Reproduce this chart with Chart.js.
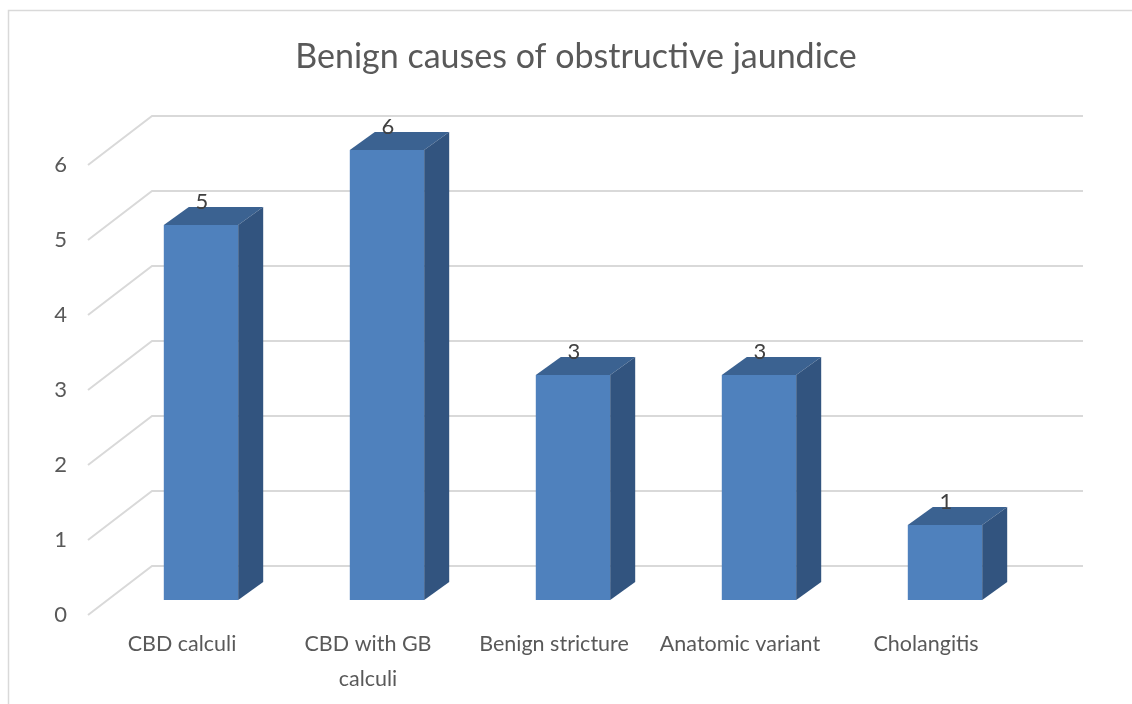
<!DOCTYPE html>
<html>
<head>
<meta charset="utf-8">
<title>Benign causes of obstructive jaundice</title>
<script src="https://cdn.jsdelivr.net/npm/chart.js@4/dist/chart.umd.min.js"></script>
<style>
  html, body { margin: 0; padding: 0; background: #ffffff; }
  #wrap { width: 1132px; height: 704px; }
</style>
</head>
<body>
<div id="wrap"><canvas id="chart" width="1132" height="704"></canvas></div>
<script>
// Categories and case counts
const categories = [
  'CBD calculi',
  ['CBD with GB', 'calculi'],
  'Benign stricture',
  'Anatomic variant',
  'Cholangitis'
];
const caseCounts = [5, 6, 3, 3, 1];
const yMin = 0;
const yMax = 6;

// Colours for the extruded columns and the frame
const FRONT = '#4f81bd';
const TOP = '#3b6291';
const SIDE = '#32547f';
const GRID = '#d9d9d9';
const TEXT = '#595959';

// Pseudo-3D geometry (pixels)
const BAR_DX = 25, BAR_DY = 18;      // column depth
const BACK_DX = 44, BACK_DY = 34;    // back wall offset from the bar plane
const FRONT_DX = 20, FRONT_DY = 15;  // floor front edge offset from the bar plane

const frame3d = {
  id: 'frame3d',
  afterLayout(chart) {
    // centre the title over the whole framed panel rather than the plot
    const tb = chart.titleBlock;
    if (tb) {
      tb.left = 20;
      tb.right = chart.width;
      tb.width = tb.right - tb.left;
    }
  },
  beforeDraw(chart) {
    const ctx = chart.ctx;
    ctx.save();
    ctx.strokeStyle = GRID;
    ctx.lineWidth = 1.5;
    ctx.strokeRect(8.5, 10.5, 1200, 800);
    ctx.restore();
  },
  beforeDatasetsDraw(chart) {
    const { ctx, chartArea, scales } = chart;
    const y = scales.y;
    ctx.save();
    ctx.strokeStyle = GRID;
    ctx.lineWidth = 2;
    y.ticks.forEach(t => {
      const py = y.getPixelForValue(t.value);
      ctx.beginPath();
      ctx.moveTo(chartArea.left - FRONT_DX, py + FRONT_DY);
      ctx.lineTo(chartArea.left + BACK_DX, py - BACK_DY);
      ctx.lineTo(chartArea.right + BACK_DX + 1, py - BACK_DY);
      ctx.stroke();
    });
    ctx.restore();
  },
  afterDatasetsDraw(chart) {
    const ctx = chart.ctx;
    const meta = chart.getDatasetMeta(0);
    const values = chart.data.datasets[0].data;
    ctx.save();
    meta.data.forEach((bar) => {
      const { x, y, base, width } = bar.getProps(['x', 'y', 'base', 'width'], true);
      const l = x - width / 2, r = x + width / 2;
      // top face
      ctx.fillStyle = TOP;
      ctx.beginPath();
      ctx.moveTo(l, y);
      ctx.lineTo(l + BAR_DX, y - BAR_DY);
      ctx.lineTo(r + BAR_DX, y - BAR_DY);
      ctx.lineTo(r, y);
      ctx.closePath();
      ctx.fill();
      // right side face
      ctx.fillStyle = SIDE;
      ctx.beginPath();
      ctx.moveTo(r, y);
      ctx.lineTo(r + BAR_DX, y - BAR_DY);
      ctx.lineTo(r + BAR_DX, base - BAR_DY);
      ctx.lineTo(r, base);
      ctx.closePath();
      ctx.fill();
    });
    // value labels
    ctx.fillStyle = '#404040';
    ctx.font = '22px Lato';
    ctx.textAlign = 'center';
    ctx.textBaseline = 'middle';
    meta.data.forEach((bar, i) => {
      const { x, y } = bar.getProps(['x', 'y'], true);
      ctx.fillText(String(values[i]), x + 1, y - 23);
    });
    ctx.restore();
  }
};

new Chart(document.getElementById('chart'), {
  type: 'bar',
  data: {
    labels: categories,
    datasets: [{
      data: caseCounts,
      backgroundColor: FRONT,
      borderWidth: 0,
      categoryPercentage: 1,
      barPercentage: 0.4
    }]
  },
  options: {
    responsive: false,
    animation: false,
    events: [],
    layout: { padding: { left: 0, right: 94, top: 0, bottom: 0 } },
    plugins: {
      legend: { display: false },
      tooltip: { enabled: false },
      title: {
        display: true,
        text: 'Benign causes of obstructive jaundice',
        color: TEXT,
        font: { family: 'Lato', size: 34, weight: 'normal', lineHeight: 1.25 },
        padding: { top: 36, bottom: 71.5 }
      }
    },
    scales: {
      x: {
        grid: { display: false, drawTicks: false },
        border: { display: false },
        ticks: {
          color: TEXT,
          font: { family: 'Lato', size: 21.5, lineHeight: 1.6 },
          padding: 27,
          labelOffset: -19,
          maxRotation: 0,
          autoSkip: false
        },
        afterFit(scale) { scale.height = 104; }
      },
      y: {
        min: yMin,
        max: yMax,
        grid: { display: false, drawTicks: false },
        border: { display: false },
        ticks: {
          stepSize: 1,
          color: TEXT,
          font: { family: 'Lato', size: 22 },
          padding: 41,
          labelOffset: 15
        },
        afterFit(scale) { scale.width = 108; }
      }
    }
  },
  plugins: [frame3d]
});
</script>
</body>
</html>
